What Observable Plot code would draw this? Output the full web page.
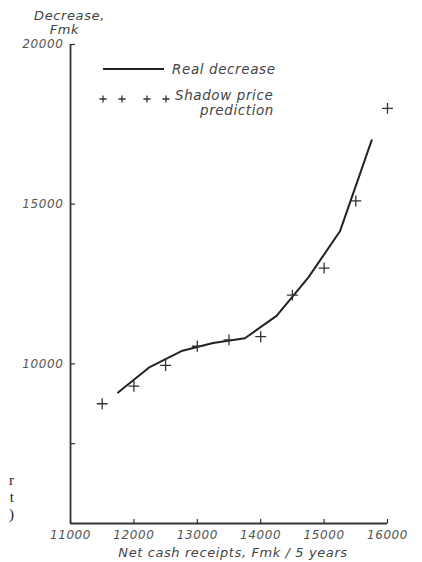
<!DOCTYPE html>
<html>
<head>
<meta charset="utf-8">
<script src="https://cdn.jsdelivr.net/npm/d3@7"></script>
<script src="https://cdn.jsdelivr.net/npm/@observablehq/plot@0.6"></script>
<style>
  html, body { margin: 0; padding: 0; background: #fff; }
  #wrap { position: relative; width: 422px; height: 562px; overflow: hidden; }
  #wrap svg text { letter-spacing: 0.6px; }
  #legend { position: absolute; left: 0; top: 0; width: 422px; height: 140px; pointer-events: none; }
  #legend text { font-family: "DejaVu Sans", sans-serif; font-style: italic; font-size: 13.5px; fill: #444; letter-spacing: 1px; }
  #edge { position: absolute; left: 0; top: 472px; width: 14px; text-align: right;
          font-family: "Liberation Serif", serif; font-size: 15px; line-height: 17px; color: #222; }
</style>
</head>
<body>
<div id="wrap"></div>
<script>
// ---- data ----
const xTicks = [11000, 12000, 13000, 14000, 15000, 16000];
const yTicks = [10000, 15000, 20000];
const yMinorTicks = [7500];

const realReceipts = [11750, 12250, 12750, 13250, 13750, 14250, 14750, 15250, 15750];
const realDecrease = [9100, 9900, 10400, 10650, 10800, 11500, 12700, 14150, 17000];

const predReceipts = [11500, 12000, 12500, 13000, 13500, 14000, 14500, 15000, 15500, 16000];
const predDecrease = [8750, 9300, 9950, 10550, 10750, 10850, 12150, 13000, 15100, 18000];

const yLabelLines = ["Decrease,", "Fmk"];
const xLabel = "Net cash receipts, Fmk / 5 years";
const legendReal = "Real decrease";
const legendPred = ["Shadow price", "prediction"];

// ---- tables ----
const real = realReceipts.map((x, i) => ({x, y: realDecrease[i]}));
const pred = predReceipts.map((x, i) => ({x, y: predDecrease[i]}));

// inward tick symbols (short strokes from the axis into the plot)
const tickUp = {draw(ctx) { ctx.moveTo(0, 0); ctx.lineTo(0, -4.5); }};
const tickRight = {draw(ctx) { ctx.moveTo(0, 0); ctx.lineTo(4.5, 0); }};

const ink = "#333";
const chart = Plot.plot({
  width: 422,
  height: 562,
  marginLeft: 70,
  marginRight: 35,
  marginTop: 44,
  marginBottom: 39,
  x: {domain: [11000, 16000]},
  y: {domain: [5000, 20000]},
  style: {fontFamily: "DejaVu Sans, sans-serif", fontStyle: "italic", fontSize: "12px", color: "#555", background: "#fff"},
  marks: [
    Plot.axisX(xTicks, {tickSize: 0, tickPadding: 7, label: null, tickFormat: d => String(d)}),
    Plot.axisY(yTicks, {tickSize: 0, tickPadding: 7, label: null, tickFormat: d => String(d)}),
    Plot.dot(xTicks, {x: d => d, y: 5000, symbol: tickUp, r: 4, stroke: ink, strokeWidth: 1.2}),
    Plot.dot([...yTicks, ...yMinorTicks], {x: 11000, y: d => d, symbol: tickRight, r: 4, stroke: ink, strokeWidth: 1.2}),
    Plot.ruleX([11000], {stroke: ink, strokeWidth: 1.8}),
    Plot.ruleY([5000], {stroke: ink, strokeWidth: 1.8}),
    Plot.line(real, {x: "x", y: "y", stroke: "#222", strokeWidth: 2}),
    Plot.dot(pred, {x: "x", y: "y", symbol: "plus", r: 3.6, stroke: "#333", strokeWidth: 1.3}),
    Plot.text([yLabelLines[0]], {frameAnchor: "top-left", textAnchor: "middle", lineAnchor: "middle", dx: -1, dy: -29, fontSize: 13, fill: "#444"}),
    Plot.text([yLabelLines[1]], {frameAnchor: "top-left", textAnchor: "middle", lineAnchor: "middle", dx: -6, dy: -15, fontSize: 13, fill: "#444"}),
    Plot.text([xLabel], {frameAnchor: "bottom", lineAnchor: "middle", dx: 4, dy: 29, fontSize: 13, fill: "#444"})
  ]
});
const wrap = document.getElementById("wrap");
wrap.appendChild(chart);

// ---- legend overlay ----
const ns = "http://www.w3.org/2000/svg";
const leg = document.createElementNS(ns, "svg");
leg.setAttribute("id", "legend");
leg.setAttribute("width", 422);
leg.setAttribute("height", 140);
const ln = document.createElementNS(ns, "line");
ln.setAttribute("x1", 103); ln.setAttribute("x2", 164);
ln.setAttribute("y1", 69); ln.setAttribute("y2", 69);
ln.setAttribute("stroke", "#222"); ln.setAttribute("stroke-width", 2);
leg.appendChild(ln);
function addText(str, x, y) {
  const t = document.createElementNS(ns, "text");
  t.setAttribute("x", x); t.setAttribute("y", y);
  t.textContent = str;
  leg.appendChild(t);
}
addText(legendReal, 172, 74);
[103, 122, 147, 166].forEach(px => {
  const p = document.createElementNS(ns, "path");
  p.setAttribute("d", `M${px - 3.6},99h7.2M${px},95.4v7.2`);
  p.setAttribute("stroke", "#333"); p.setAttribute("stroke-width", 1.3); p.setAttribute("fill", "none");
  leg.appendChild(p);
});
addText(legendPred[0], 175, 100);
addText(legendPred[1], 200, 115);
wrap.appendChild(leg);

// cropped page fragment at left edge
const edge = document.createElement("div");
edge.id = "edge";
edge.innerHTML = "r<br>t<br>)";
wrap.appendChild(edge);
</script>
</body>
</html>
